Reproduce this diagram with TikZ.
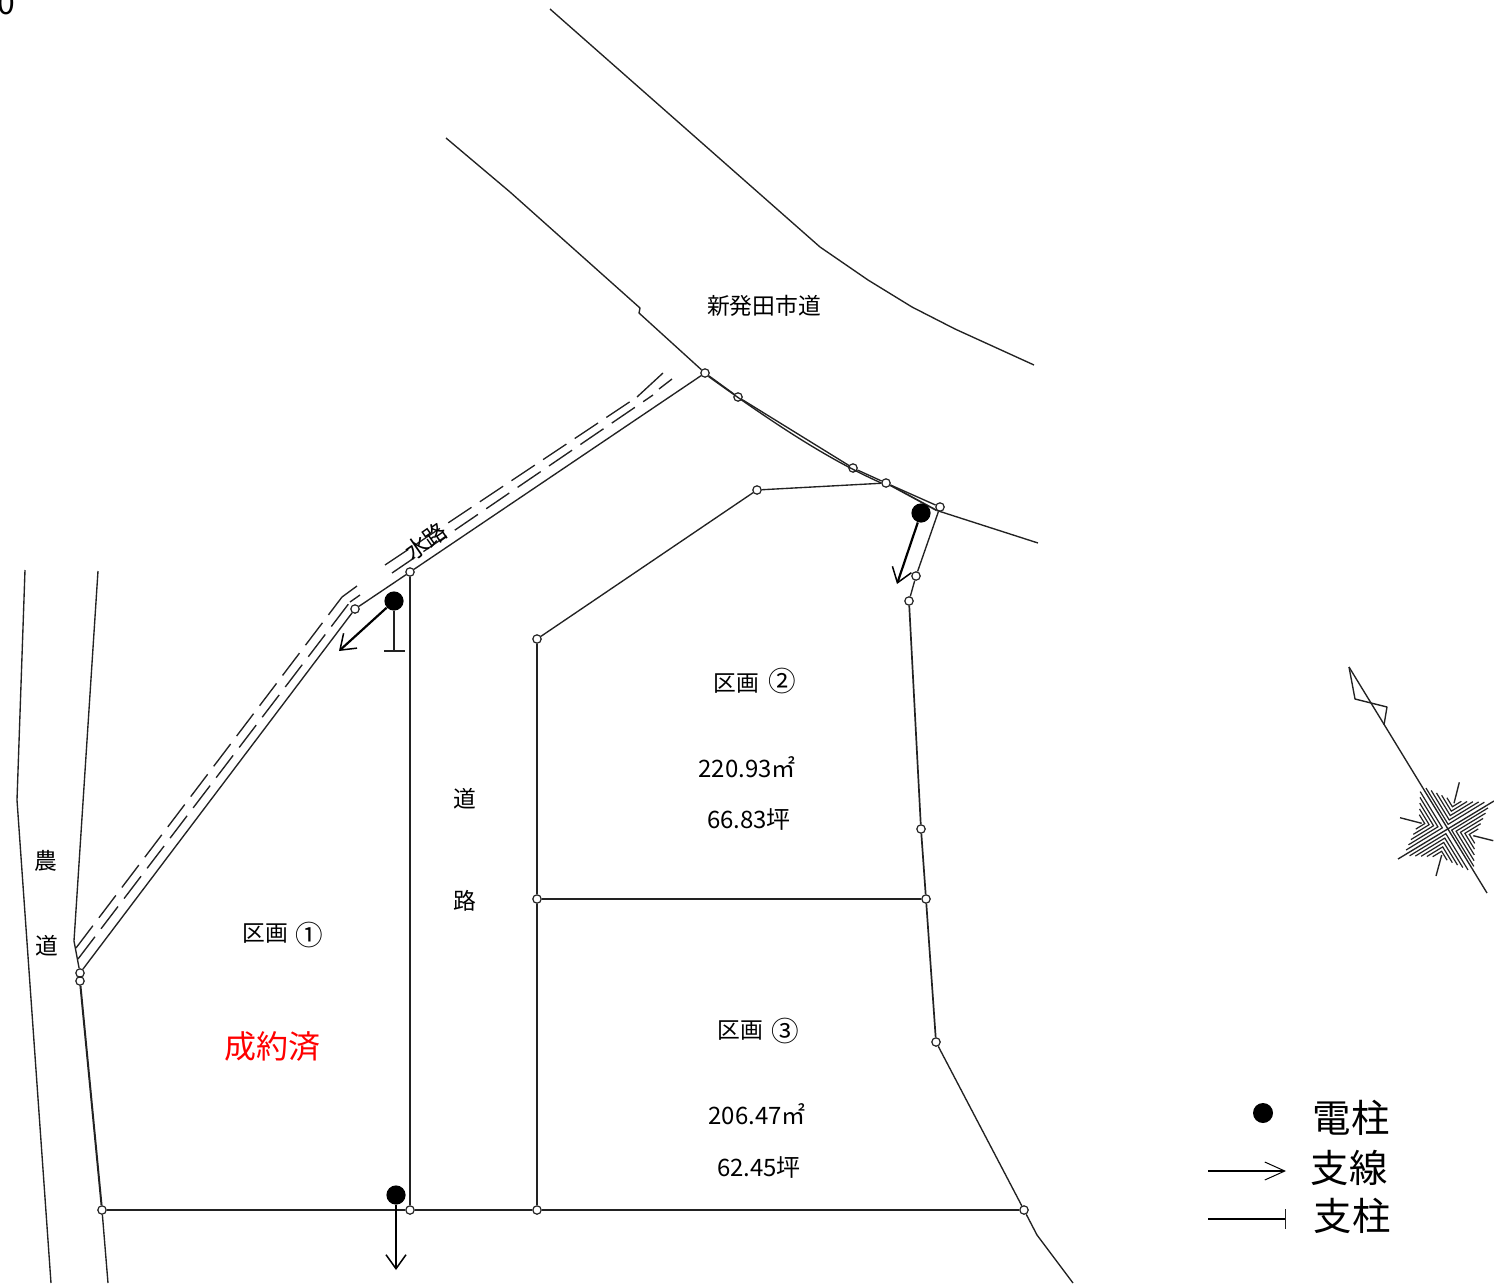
\documentclass[tikz,border=0pt]{standalone}
\usepackage{fontspec}
\setmainfont{Noto Sans CJK JP}
\usetikzlibrary{arrows.meta}
\definecolor{ink}{HTML}{222222}
\tikzset{
  pt/.style={circle,draw=ink,fill=white,line width=0.6pt,minimum size=4.2pt,inner sep=0pt},
  pole/.style={circle,fill=black,draw=none,minimum size=9.6pt,inner sep=0pt},
  ln/.style={draw=ink,line width=0.68pt},
  bd/.style={draw=ink,line width=0.85pt},
  ch/.style={draw=ink,line width=0.68pt,dash pattern=on 14pt off 5pt},
  stay/.style={draw=black,line width=1.1pt,-{Straight Barb[length=7pt,width=10pt,line width=0.75pt]}},
  lbl/.style={inner sep=0pt,font=\fontsize{11.4}{13}\selectfont,text=black},
  num/.style={inner sep=0pt,font=\fontsize{12}{14}\selectfont,text=black},
  leg/.style={inner sep=0pt,font=\fontsize{19.2}{22}\selectfont,text=black}
}
\begin{document}
\begin{tikzpicture}[x=0.5pt,y=-0.5pt]
\useasboundingbox (0,0) rectangle (1494,1285);
% survey points
\node[pt] (p1) at (705,373) {};
\node[pt] (p2) at (738,397) {};
\node[pt] (p3) at (853,468) {};
\node[pt] (p4) at (886,483) {};
\node[pt] (p5) at (940,507) {};
\node[pt] (p6) at (757,490) {};
\node[pt] (p7) at (916,576) {};
\node[pt] (p8) at (909,601) {};
\node[pt] (p9) at (921,829) {};
\node[pt] (p10) at (926,899) {};
\node[pt] (p11) at (936,1042) {};
\node[pt] (p12) at (1024,1210) {};
\node[pt] (p13) at (537,1210) {};
\node[pt] (p14) at (410,1210) {};
\node[pt] (p15) at (102,1210) {};
\node[pt] (p16) at (537,899) {};
\node[pt] (p17) at (537,639) {};
\node[pt] (p18) at (410,572) {};
\node[pt] (p19) at (355,609) {};
\node[pt] (p20) at (80,973) {};
\node[pt] (p21) at (80,981) {};
% roads
\draw[ln,line join=round] (550,9) -- (820,247) -- (868,280) -- (912,307) -- (955,329) -- (1034,365);
\draw[ln,line join=round] (446,138) -- (510,192) -- (640,308) -- (639,313) -- (p1);
\draw[ln,line join=round] (p1.south east) .. controls (780,428) and (830,460) .. (p4.west);
\draw[bd] (p4) -- (p5.south west);
\draw[ln] (p5.south west) -- (1038,543);
\draw[ln] (25,570) -- (17,800) -- (51,1283);
\draw[ln] (98,571) -- (74,941) -- (p20);
\draw[ln] (p15) -- (108,1283);
% boundary lines
\draw[ln] (p1) -- (p2) -- (p3) -- (p4) -- (p5);
\draw[ln] (p1) -- (p18) -- (p19) -- (p20);
\draw[ln] (p20) -- (p21);
\draw[bd,line width=1pt] (p21) -- (p15);
\draw[bd] (p15) -- (p14) -- (p13) -- (p12);
\draw[ln] (p18) -- (p14);
\draw[bd] (p17) -- (p16) -- (p13);
\draw[bd] (p16) -- (p10);
\draw[ln] (p17) -- (p6) -- (p4);
\draw[ln] (p5) -- (p7) -- (p8);
\draw[bd] (p8) -- (p9) -- (p10) -- (p11);
\draw[ln] (p11) -- (p12) -- (1037,1235) -- (1073,1283);
% water channel
\draw[ch] (76,948) -- (342,597);
\draw[ch] (78,959) -- (350,602);
\draw[ln] (342,597) -- (357,586);
\draw[ln] (350,602) -- (360,595);
\draw[ch] (385,565) -- (637,397);
\draw[ch] (392,573) -- (653,395);
\draw[ln] (637,397) -- (663,373);
\draw[ln] (659,389) -- (672,379);
% poles
\node[pole] (a) at (394,601) {};
\coordinate (aend) at (339,651);
\coordinate (atee) at (394,651);
\draw[stay] (a) -- (aend);
\draw[draw=ink,line width=0.8pt] (a) -- (atee) (384,651) -- (405,651);
\node[pole] (b) at (921,513) {};
\coordinate (bend) at (897,584);
\draw[stay] (b) -- (bend);
\node[pole] (c) at (396,1195) {};
\coordinate (cend) at (396,1270);
\draw[stay] (c) -- (cend);
% labels
\node[lbl] at (764,306) {新発田市道};
\node[lbl,rotate=35] at (426,541) {水路};
\node[lbl] at (46,861) {農};
\node[lbl] at (47,946) {道};
\node[lbl] at (465,799) {道};
\node[lbl] at (465,901) {路};
\node[lbl] at (265,934) {区画};
\node[lbl,font=\fontsize{13.8}{15}\selectfont] at (309,935) {①};
\node[lbl] at (736,684) {区画};
\node[lbl,font=\fontsize{13.8}{15}\selectfont] at (782,681) {②};
\node[lbl] at (740,1031) {区画};
\node[lbl,font=\fontsize{13.8}{15}\selectfont] at (785,1031) {③};
\node[num] at (747,767) {220.93㎡};
\node[num] at (749,820) {66.83坪};
\node[num] at (757,1114) {206.47㎡};
\node[num] at (759,1167) {62.45坪};
\node[lbl,font=\fontsize{16}{18}\selectfont,text=red] at (272,1046) {成約済};
\node[lbl,font=\fontsize{16}{18}\selectfont] at (6,3) {0};
% north mark
\draw[draw=ink,line width=0.68pt,line join=round] (1349,667) -- (1487,893);
\draw[draw=ink,line width=0.68pt,line join=round] (1349,667) -- (1355,699) -- (1387,707) -- (1384,725);
\draw[draw=ink,line width=0.68pt] (1398,859) -- (1494,801);
\begin{scope}[shift={(1447,829)},rotate=-58.6]
  \foreach \off in {3.4,6.6,9.8,13,16.2}{
    \pgfmathsetmacro{\len}{51-1.5*\off}
    \draw[draw=ink,line width=0.6pt] (\len,\off) -- (\off,\off) -- (\off,\len);
    \draw[draw=ink,line width=0.6pt] (-\len,\off) -- (-\off,\off) -- (-\off,\len);
    \draw[draw=ink,line width=0.6pt] (\len,-\off) -- (\off,-\off) -- (\off,-\len);
    \draw[draw=ink,line width=0.6pt] (-\len,-\off) -- (-\off,-\off) -- (-\off,-\len);
  }
\end{scope}
\draw[draw=ink,line width=0.68pt] (1459.3,782.3) -- (1454,803.3) (1400,817.7) -- (1421.7,823.3) (1436,876) -- (1441.7,855) (1473.3,835.7) -- (1493.3,840.7);
% legend
\node[pole,minimum size=10pt] (lg) at (1263,1113) {};
\node[leg] at (1351,1118) {電柱};
\coordinate (la) at (1208,1171);
\coordinate (lb) at (1286,1171);
\draw[draw=black,line width=0.7pt,-{Straight Barb[length=10pt,width=9pt,line width=0.5pt]}] (la) -- (lb);
\node[leg] at (1349,1168) {支線};
\coordinate (lc) at (1208,1219);
\coordinate (ld) at (1285,1219);
\draw[draw=black,line width=0.7pt] (lc) -- (ld);
\draw[draw=ink,line width=0.4pt] (1285,1209) -- (1285,1229);
\node[leg] at (1352,1216) {支柱};
\end{tikzpicture}
\end{document}
